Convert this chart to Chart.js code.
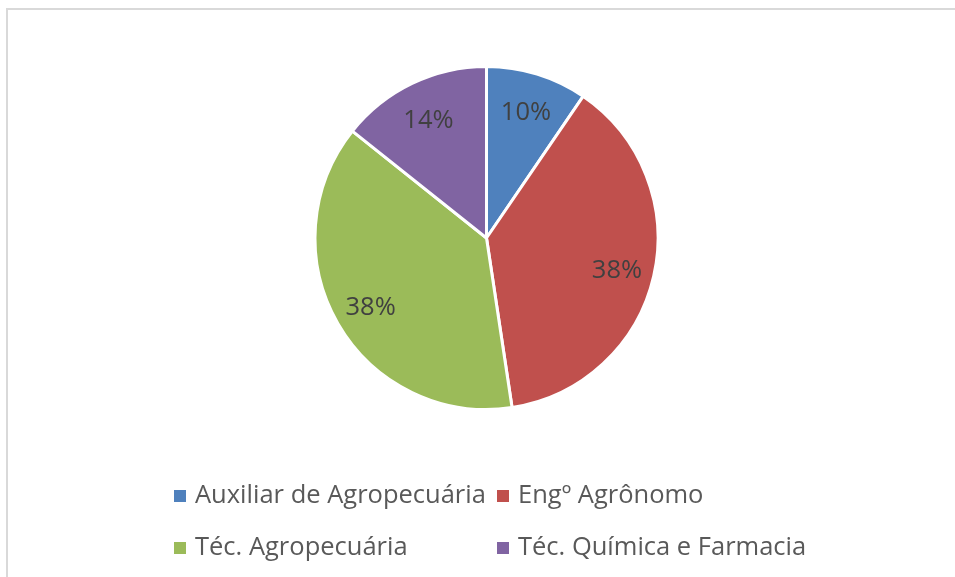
<!DOCTYPE html>
<html>
<head>
<meta charset="utf-8">
<script src="https://cdn.jsdelivr.net/npm/chart.js@4.4.0/dist/chart.umd.min.js"></script>
<style>
    html, body { margin: 0; padding: 0; background: #fff; overflow: hidden; }
    #wrap { position: relative; width: 955px; height: 577px; }
    #frame {
        position: absolute; left: 6px; top: 8px; width: 1000px; height: 600px;
        border-top: 2px solid #d9d9d9; border-left: 2px solid #d9d9d9;
    }
    canvas { position: absolute; left: 0; top: 0; }
</style>
</head>
<body>
<div id="wrap">
    <div id="frame"></div>
    <canvas id="pieChart" width="955" height="577"></canvas>
</div>
<script>
const categories = ['Auxiliar de Agropecuária', 'Engº Agrônomo', 'Téc. Agropecuária', 'Téc. Química e Farmacia'];
const counts = [4, 16, 16, 6];
const colors = ['#4F81BD', '#C0504D', '#9BBB59', '#8064A2'];

const FONT = '"Open Sans", sans-serif';

// percentage labels inside slices
const sliceLabels = {
    id: 'sliceLabels',
    afterDatasetsDraw(chart) {
        const ctx = chart.ctx;
        const meta = chart.getDatasetMeta(0);
        const total = counts.reduce((a, b) => a + b, 0);
        ctx.save();
        ctx.font = '25.5px ' + FONT;
        ctx.fillStyle = '#404040';
        ctx.textAlign = 'center';
        ctx.textBaseline = 'middle';
        meta.data.forEach((arc, i) => {
            const p = arc.getProps(['x', 'y', 'startAngle', 'endAngle', 'outerRadius']);
            const mid = (p.startAngle + p.endAngle) / 2;
            const r = p.outerRadius * 0.78;
            const pct = Math.round(counts[i] / total * 100) + '%';
            ctx.fillText(pct, p.x + Math.cos(mid) * r, p.y + Math.sin(mid) * r + 3);
        });
        ctx.restore();
    }
};

// two-column legend under the pie
const gridLegend = {
    id: 'gridLegend',
    afterDraw(chart) {
        const ctx = chart.ctx;
        const area = chart.chartArea;
        const colX = [174, 497];
        const rowY = [area.bottom + 85, area.bottom + 137];
        ctx.save();
        ctx.font = '25.5px ' + FONT;
        ctx.textBaseline = 'middle';
        categories.forEach((name, i) => {
            const x = colX[i % 2];
            const y = rowY[Math.floor(i / 2)];
            ctx.fillStyle = colors[i];
            ctx.fillRect(x, y - 6, 12, 12);
            ctx.fillStyle = '#595959';
            ctx.fillText(name, x + 21, y);
        });
        ctx.restore();
    }
};

const ctx = document.getElementById('pieChart').getContext('2d');
const pieChart = new Chart(ctx, {
    type: 'pie',
    data: {
        labels: categories,
        datasets: [{
            data: counts,
            backgroundColor: colors,
            borderColor: '#ffffff',
            borderWidth: 3
        }]
    },
    options: {
        responsive: false,
        animation: false,
        layout: {
            padding: { left: 18, right: 0, top: 65, bottom: 166 }
        },
        plugins: {
            legend: { display: false },
            tooltip: { enabled: false }
        }
    },
    plugins: [sliceLabels, gridLegend]
});
</script>
</body>
</html>
